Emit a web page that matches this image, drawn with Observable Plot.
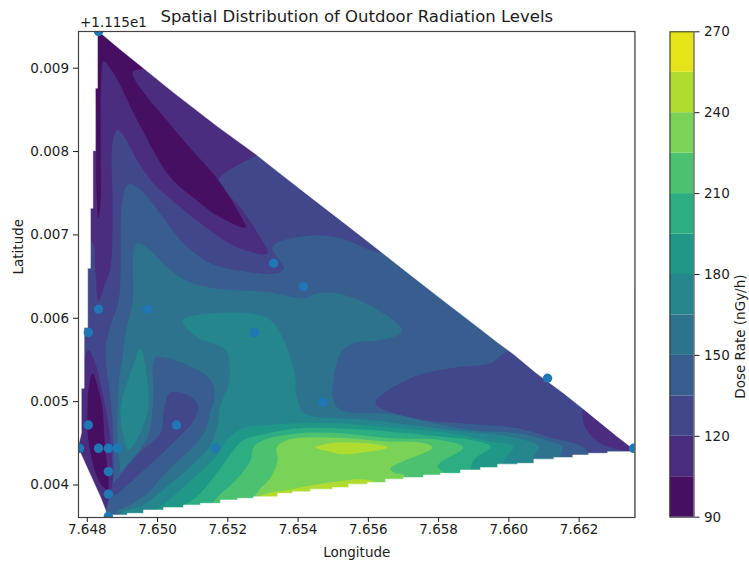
<!DOCTYPE html>
<html><head><meta charset="utf-8">
<script src="https://cdn.jsdelivr.net/npm/d3@7"></script>
<script src="https://cdn.jsdelivr.net/npm/@observablehq/plot@0.6"></script>
<style>
html,body{margin:0;padding:0;background:#fff;width:749px;height:561px;overflow:hidden;font-family:"DejaVu Sans",sans-serif}
#main,#bar{position:absolute;top:0}
#main{left:0}#bar{left:660px}
svg{display:block;overflow:visible;background:transparent}
</style></head><body><div id="main"></div><div id="bar"></div>
<script>
// Band lower bounds and colours (nGy/h)
const levels=[90,105,120,135,150,165,180,195,210,225,240,255];
const bandColors=["#460f62","#4b2d7f","#42468a","#375e8e","#2d738e","#23878d","#209887","#2cae82","#4cc270","#7ad256","#aedd2f","#e5e419"];
const xTicks=[7.648,7.650,7.652,7.654,7.656,7.658,7.660,7.662];
const yTicks=[0.004,0.005,0.006,0.007,0.008,0.009];
const barTicks=[90,120,150,180,210,240,270];
const lonDomain=[7.64775,7.66359];
const latDomain=[0.00361,0.00944];
// Survey stations: longitude, latitude offset from 11.15
const stationLon=[7.64832,7.64803,7.64778,7.64832,7.64860,7.64886,7.64860,7.64860,7.64860,7.65054,7.65165,7.64832,7.64971,7.64803,7.65276,7.65330,7.65415,7.65470,7.66110,7.66355];
const stationLat=[0.00944,0.00472,0.00444,0.00444,0.00444,0.00444,0.00416,0.00389,0.00362,0.00472,0.00444,0.00611,0.00611,0.00583,0.00583,0.00666,0.00638,0.00499,0.00528,0.00444];
// Contour outlines, [longitude, latitude offset]
const base=[[7.6470,0.0030],[7.6645,0.0030],[7.6645,0.0100],[7.6470,0.0100]];
const s120=[[7.64886,.00826],[7.64900,.00821],[7.64943,.00789],[7.64988,.00762],[7.65043,.00741],[7.65151,.00705],[7.65228,.00685],[7.65313,.00678],[7.65285,.00702],[7.65236,.00733],[7.65174,.00765],[7.65279,.00795],[7.65379,.00819],[7.66389,.00621],[7.66389,.00310],[7.64752,.00310],[7.64758,.00699],[7.64812,.00693],[7.64823,.00657],[7.64832,.00621],[7.64849,.00639],[7.64866,.00661],[7.64872,.00729],[7.64872,.00810]];
const s135=[[7.64917,.00761],[7.64943,.00757],[7.64980,.00741],[7.65028,.00714],[7.65074,.00690],[7.65151,.00666],[7.65236,.00657],[7.65342,.00654],[7.65359,.00660],[7.65327,.00686],[7.65427,.00699],[7.65521,.00696],[7.65626,.00679],[7.65749,.00675],[7.66033,.00580],[7.65971,.00553],[7.65948,.00546],[7.65834,.00540],[7.65720,.00528],[7.65620,.00498],[7.65720,.00481],[7.65862,.00474],[7.66025,.00468],[7.66119,.00457],[7.66213,.00445],[7.66232,.00432],[7.66232,.00334],[7.64852,.00334],[7.64858,.00382],[7.64875,.00408],[7.64875,.00421],[7.64872,.00474],[7.64863,.00514],[7.64855,.00538],[7.64852,.00567],[7.64866,.00591],[7.64889,.00621],[7.64895,.00661],[7.64895,.00702],[7.64900,.00741]];
const s150=[[7.64943,.00690],[7.64980,.00681],[7.65028,.00661],[7.65094,.00643],[7.65179,.00635],[7.65322,.00631],[7.65415,.00624],[7.65455,.00630],[7.65521,.00629],[7.65615,.00613],[7.65692,.00589],[7.65692,.00582],[7.65635,.00574],[7.65558,.00570],[7.65521,.00558],[7.65501,.00526],[7.65498,.00505],[7.65521,.00490],[7.65672,.00485],[7.65777,.00475],[7.65891,.00466],[7.66025,.00462],[7.66119,.00452],[7.66153,.00446],[7.66147,.00436],[7.66147,.00334],[7.64909,.00334],[7.64895,.00414],[7.64886,.00454],[7.64889,.00517],[7.64903,.00562],[7.64909,.00582],[7.64929,.00621],[7.64932,.00681]];
const s165=[[7.65071,.00597],[7.65151,.00606],[7.65313,.00600],[7.65359,.00574],[7.65393,.00526],[7.65393,.00514],[7.65415,.00487],[7.65507,.00480],[7.65578,.00479],[7.65720,.00472],[7.65834,.00466],[7.65928,.00462],[7.66025,.00456],[7.66085,.00446],[7.66068,.00432],[7.66068,.00334],[7.64895,.00334],[7.64895,.00365],[7.64960,.00376],[7.65023,.00397],[7.65122,.00433],[7.65151,.00448],[7.65171,.00472],[7.65179,.00496],[7.65202,.00520],[7.65205,.00538],[7.65194,.00562],[7.65114,.00577]];
const finger165=[[7.64951,.00564],[7.64929,.00541],[7.64895,.00493],[7.64900,.00466],[7.64917,.00442],[7.64971,.00486],[7.64966,.00541]];
const pocket135=[[7.64994,.00553],[7.65017,.00553],[7.65074,.00546],[7.65151,.00526],[7.65162,.00502],[7.65151,.00490],[7.65142,.00472],[7.65122,.00456],[7.65023,.00414],[7.64957,.00385],[7.64872,.00370],[7.64855,.00382],[7.64895,.00414],[7.64971,.00457],[7.64986,.00493],[7.64988,.00520],[7.64986,.00544]];
const pocket120=[[7.65037,.00511],[7.65094,.00506],[7.65114,.00496],[7.65108,.00481],[7.65023,.00442],[7.64937,.00409],[7.64875,.00388],[7.64860,.00394],[7.64889,.00409],[7.64946,.00438],[7.65008,.00462],[7.65020,.00493]];
const low105Left=[[7.64803,.00562],[7.64823,.00546],[7.64838,.00520],[7.64852,.00493],[7.64866,.00454],[7.64872,.00406],[7.64858,.00378],[7.64846,.00364],[7.64752,.00406],[7.64752,.00502],[7.64781,.00532]];
const low90Left=[[7.64815,.00534],[7.64832,.00514],[7.64843,.00493],[7.64849,.00454],[7.64858,.00394],[7.64832,.00406],[7.64803,.00454],[7.64801,.00493],[7.64803,.00514]];
const low105Right=[[7.66213,.00492],[7.66213,.00474],[7.66241,.00456],[7.66289,.00445],[7.66375,.00443],[7.66375,.00478],[7.66261,.00502]];
const low90Top=[[7.64823,.00951],[7.64980,.00915],[7.64957,.00900],[7.64929,.00895],[7.65051,.00825],[7.65174,.00765],[7.65228,.00729],[7.65250,.00709],[7.65159,.00726],[7.65114,.00741],[7.65037,.00769],[7.64943,.00837],[7.64875,.00894],[7.64846,.00908],[7.64840,.00885],[7.64838,.00801],[7.64838,.00741],[7.64832,.00720],[7.64826,.00753],[7.64826,.00837],[7.64820,.00897],[7.64815,.00933]];
const s180=[[7.64966,.00346],[7.64966,.00360],[7.65023,.00379],[7.65122,.00416],[7.65171,.00436],[7.65202,.00456],[7.65245,.00468],[7.65313,.00472],[7.65407,.00474],[7.65507,.00474],[7.65663,.00469],[7.65834,.00462],[7.65948,.00452],[7.66013,.00446],[7.65985,.00427],[7.65985,.00334]];
const s195=[[7.65051,.00346],[7.65051,.00364],[7.65122,.00390],[7.65179,.00420],[7.65222,.00445],[7.65245,.00454],[7.65313,.00462],[7.65407,.00468],[7.65507,.00468],[7.65663,.00464],[7.65834,.00457],[7.65891,.00454],[7.65948,.00446],[7.65896,.00427],[7.65896,.00334]];
const s210=[[7.65137,.00346],[7.65159,.00379],[7.65228,.00408],[7.65265,.00430],[7.65273,.00445],[7.65302,.00454],[7.65407,.00462],[7.65521,.00462],[7.65663,.00456],[7.65805,.00454],[7.65871,.00445],[7.65805,.00427],[7.65797,.00422],[7.65814,.00415],[7.65862,.00394],[7.65862,.00334]];
const s225=[[7.65250,.00346],[7.65279,.00388],[7.65322,.00409],[7.65342,.00430],[7.65339,.00445],[7.65370,.00454],[7.65492,.00457],[7.65663,.00452],[7.65749,.00451],[7.65783,.00445],[7.65663,.00420],[7.65672,.00415],[7.65700,.00412],[7.65720,.00394],[7.65720,.00334]];
const s240Low=[[7.65222,.00346],[7.65285,.00385],[7.65370,.00394],[7.65492,.00403],[7.65600,.00406],[7.65649,.00394],[7.65649,.00346]];
const s240Lens=[[7.65450,.00445],[7.65492,.00450],[7.65535,.00451],[7.65598,.00450],[7.65655,.00445],[7.65586,.00439],[7.65521,.00437],[7.65492,.00440]];
// Edge of the interpolated area (white outside)
const outsideUpper=[[7.64833,.00944],[7.64895,.00922],[7.64957,.00901],[7.65045,.00871],[7.65171,.00830],[7.65279,.00797],[7.65342,.00776],[7.65455,.00739],[7.65529,.00715],[7.65626,.00683],[7.65729,.00649],[7.65805,.00624],[7.65919,.00587],[7.65968,.00571],[7.66013,.00557],[7.66076,.00535],[7.66156,.00510],[7.66213,.00491],[7.66309,.00458],[7.66352,.00444],[7.66375,.00444],[7.66375,.00951],[7.64833,.00951]];
const outsideLeft=[[7.64758,.00951],[7.64829,.00951],[7.64829,.00876],[7.64823,.00876],[7.64823,.00801],[7.64816,.00801],[7.64816,.00732],[7.64809,.00732],[7.64809,.00660],[7.64801,.00660],[7.64801,.00589],[7.64791,.00589],[7.64791,.00516],[7.64783,.00516],[7.64783,.00462],[7.64775,.00448],[7.64781,.00438],[7.64809,.00412],[7.64838,.00385],[7.64852,.00370],[7.64858,.00352],[7.64758,.00352]];
const outsideLower=[[7.64858,.00364],[7.64914,.00366],[7.64960,.00370],[7.65017,.00373],[7.65074,.00376],[7.65122,.00378],[7.65179,.00382],[7.65228,.00384],[7.65273,.00386],[7.65342,.00390],[7.65384,.00392],[7.65435,.00395],[7.65498,.00397],[7.65544,.00401],[7.65598,.00403],[7.65649,.00407],[7.65700,.00409],[7.65757,.00412],[7.65805,.00414],[7.65862,.00418],[7.65919,.00421],[7.65968,.00425],[7.66025,.00426],[7.66071,.00431],[7.66128,.00433],[7.66182,.00436],[7.66227,.00438],[7.66281,.00440],[7.66346,.00444],[7.66375,.00444],[7.66375,.00352],[7.64858,.00352]];

const colorScale={type:"threshold",domain:levels.slice(1),range:bandColors};
const ink="#1c1c1c";
const layers=[
 [105,base,"linear-closed"],[120,s120],[135,s135],[150,s150],[165,s165],[165,finger165],
 [135,pocket135],[120,pocket120],[105,low105Left],[90,low90Left],[105,low105Right],[90,low90Top],
 [180,s180],[195,s195],[210,s210],[225,s225],[240,s240Low],[240,s240Lens]
];
const bandMark=([v,pts,curve])=>Plot.line(pts,{x:d=>d[0],y:d=>d[1],fill:()=>v,stroke:"none",curve:curve||"catmull-rom-closed",clip:true});
const whiteMark=(pts,curve)=>Plot.line(pts,{x:d=>d[0],y:d=>d[1],fill:"white",stroke:"white",strokeWidth:0.5,curve,clip:true});
const stations=stationLon.map((lon,i)=>({lon,lat:stationLat[i]}));

const main=Plot.plot({
 width:749,height:561,marginLeft:78,marginRight:114.5,marginTop:31,marginBottom:44,
 style:{background:"transparent",fontFamily:"DejaVu Sans",color:ink},
 x:{domain:lonDomain,axis:null},y:{domain:latDomain,axis:null},color:colorScale,
 marks:[
  ...layers.map(bandMark),
  whiteMark(outsideUpper,"linear-closed"),whiteMark(outsideLeft,"linear-closed"),whiteMark(outsideLower,"step-after"),
  Plot.dot(stations,{x:"lon",y:"lat",r:4.7,fill:"#1f77b4",stroke:"none",clip:true}),
  Plot.frame({stroke:"#444",strokeWidth:1.2}),
  Plot.axisX({ticks:xTicks,tickFormat:d3.format(".3f"),tickSize:5,tickPadding:2,fontSize:13.5,label:null,stroke:ink}),
  Plot.axisY({ticks:yTicks,tickFormat:d3.format(".3f"),tickSize:5,tickPadding:4.5,fontSize:13.5,label:null,stroke:ink}),
  Plot.text(["Spatial Distribution of Outdoor Radiation Levels"],{frameAnchor:"top",dy:-21,fontSize:16.5,fill:ink}),
  Plot.text(["+1.115e1"],{frameAnchor:"top-left",textAnchor:"start",dx:1.5,dy:-14.5,fontSize:13.5,fill:ink}),
  Plot.text(["Longitude"],{frameAnchor:"bottom",dy:39,fontSize:13.5,fill:ink}),
  Plot.text(["Latitude"],{frameAnchor:"left",dx:-60,rotate:-90,fontSize:13.5,fill:ink})
 ]});
document.getElementById("main").append(main);

const bar=Plot.plot({
 width:89,height:561,marginLeft:9.5,marginRight:55.5,marginTop:31.3,marginBottom:44.3,
 style:{background:"transparent",fontFamily:"DejaVu Sans",color:ink},
 x:{axis:null},y:{domain:[90,270],axis:null},color:colorScale,
 marks:[
  Plot.rect(levels,{y1:d=>d,y2:d=>d+15,fill:d=>d}),
  Plot.frame({stroke:"#333",strokeWidth:1}),
  Plot.axisY({anchor:"right",ticks:barTicks,tickSize:5,tickPadding:5,fontSize:13.5,label:null,stroke:ink}),
  Plot.text(["Dose Rate (nGy/h)"],{frameAnchor:"right",dx:47,rotate:-90,fontSize:13.5,fill:ink})
 ]});
document.getElementById("bar").append(bar);
</script></body></html>
